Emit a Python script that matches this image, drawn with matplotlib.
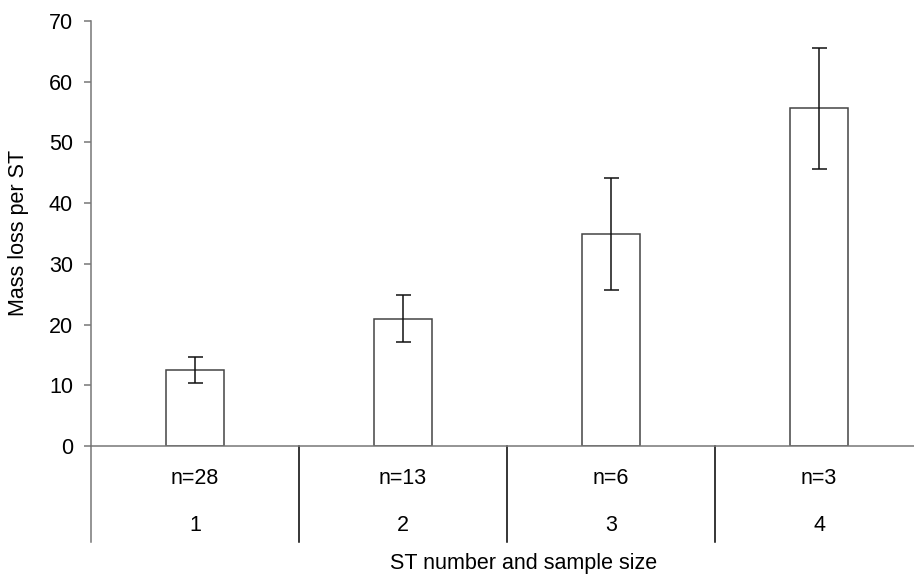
import matplotlib.pyplot as plt
import matplotlib.transforms as mtransforms

plt.rcParams['font.family'] = ['Liberation Sans', 'DejaVu Sans']

# Mean mass loss per ST with error bar half-widths
st_numbers = ['1', '2', '3', '4']
sample_sizes = ['n=28', 'n=13', 'n=6', 'n=3']
mass_loss = [12.5, 21.0, 34.9, 55.6]
errors = [2.2, 3.8, 9.2, 10.0]

fig = plt.figure(figsize=(9.14, 5.75), dpi=100)
ax = fig.add_axes([91 / 914, 1 - 446 / 575, 1 - 91 / 914, (446 - 21) / 575])

x = [i + 0.5 for i in range(len(mass_loss))]
ax.bar(x, mass_loss, width=0.275, color='white', edgecolor='#444444', linewidth=1.1, zorder=2)
ax.errorbar(x, mass_loss, yerr=errors, fmt='none', ecolor='#111111',
            elinewidth=1.1, capsize=5.4, capthick=1.1, zorder=3)

ax.set_xlim(0, (914 - 91) / 208)
ax.set_ylim(0, 70)
ax.set_yticks(range(0, 71, 10))
ax.set_xticks([])

for s in ['top', 'right']:
    ax.spines[s].set_visible(False)
for s in ['left', 'bottom']:
    ax.spines[s].set_color('#777777')
    ax.spines[s].set_linewidth(1.1)
ax.spines['left'].set_bounds(0, 70)

ax.tick_params(axis='y', direction='out', length=5, width=1.1, color='#777777',
               labelsize=15.5, pad=8)

# Category table below the axis
trans = mtransforms.blended_transform_factory(ax.transData, ax.transAxes)
ax.plot([0, 0], [0, -0.226], transform=trans, color='#777777', lw=1.1, clip_on=False)
for d in [1, 2, 3]:
    ax.plot([d, d], [0, -0.226], transform=trans, color='black', lw=1.1, clip_on=False)
for xi, n, st in zip(x, sample_sizes, st_numbers):
    ax.text(xi, -0.0753, n, transform=trans, ha='center', va='center', fontsize=15.5)
    ax.text(xi, -0.186, st, transform=trans, ha='center', va='center', fontsize=15.5)

fig.text(524 / 914, 1 - 563 / 575, 'ST number and sample size', ha='center', va='center', fontsize=15.5)
fig.text(19 / 914, 1 - 233 / 575, 'Mass loss per ST', ha='center', va='center',
         rotation=90, fontsize=15.5)

fig.savefig('out.png', dpi=100)
